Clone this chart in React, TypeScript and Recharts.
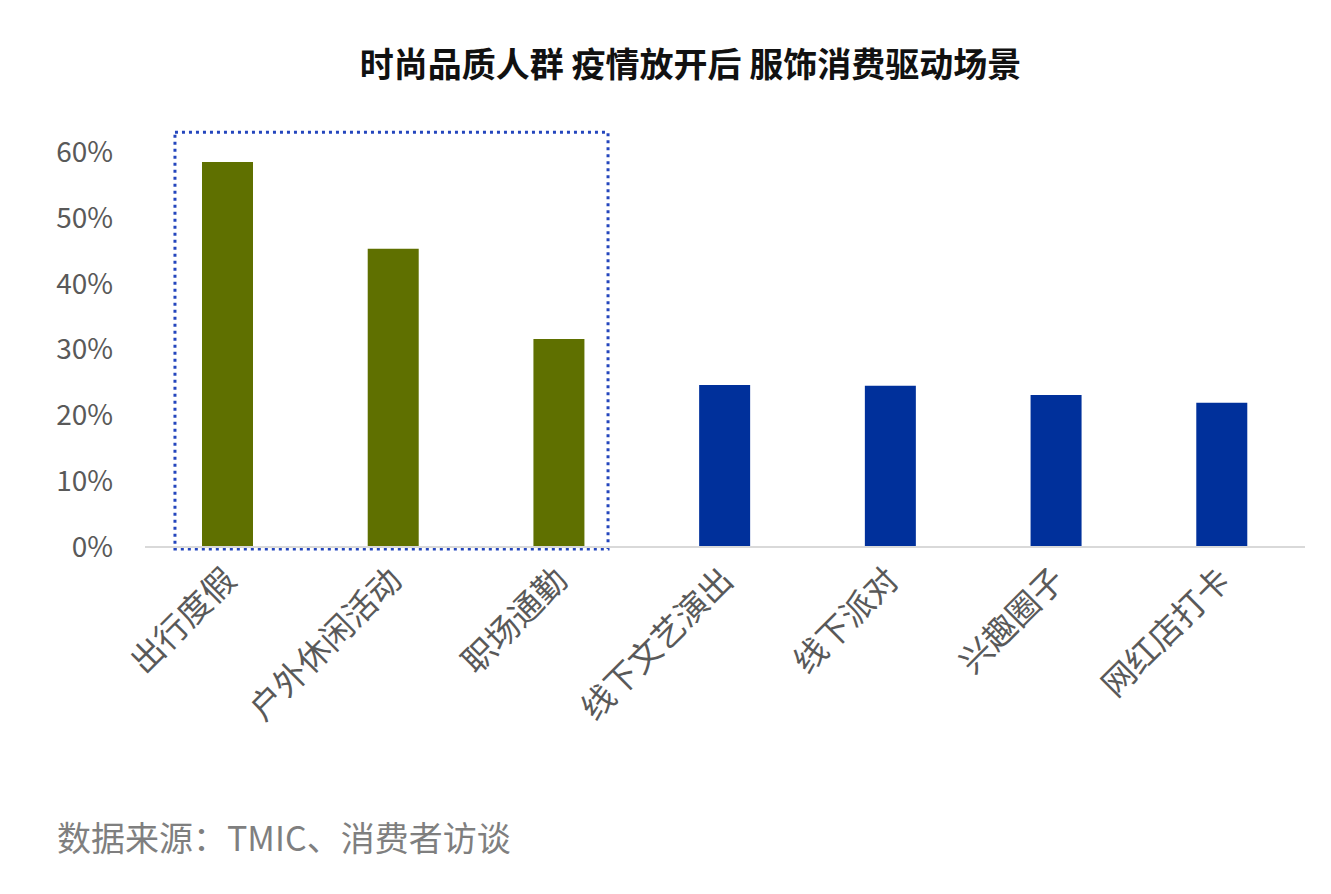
import React from 'react';
import { BarChart, Bar, XAxis, YAxis, Cell, ReferenceArea } from 'recharts';

const categories = ['出行度假', '户外休闲活动', '职场通勤', '线下文艺演出', '线下派对', '兴趣圈子', '网红店打卡'];
const values = [58.5, 45.3, 31.6, 24.6, 24.5, 23.1, 21.9];
const groups = ['top', 'top', 'top', 'other', 'other', 'other', 'other'];
const yTicks = [0, 10, 20, 30, 40, 50, 60];
const boxX = [0.155, 2.395];
const boxY = [-0.3, 63.0];

const colors: Record<string, string> = { top: '#5f7000', other: '#00309b' };
const data = categories.map((name, i) => ({ name, value: values[i], group: groups[i] }));

const FONT = '"Noto Sans CJK SC", "Noto Sans", sans-serif';

const XTick = (props: any) => {
  const { x, y, payload } = props;
  const px = x + 2;
  const py = y + 25;
  return (
    <text
      x={px}
      y={py}
      dy="0.35em"
      textAnchor="end"
      transform={`rotate(-45, ${px}, ${py})`}
      fill="#595959"
      fontSize={33}
      fontFamily={FONT}
    >
      {payload.value}
    </text>
  );
};

export default function App() {
  return (
    <div style={{ position: 'absolute', left: 0, top: 0, width: 1331, height: 894, background: '#fff' }}>
      <div
        style={{
          position: 'absolute',
          left: 25,
          width: 1331,
          top: 41,
          textAlign: 'center',
          fontFamily: FONT,
          fontWeight: 700,
          fontSize: 34,
          color: '#111',
          lineHeight: '44px',
        }}
      >
        时尚品质人群 疫情放开后 服饰消费驱动场景
      </div>
      <BarChart
        width={1331}
        height={894}
        data={data}
        margin={{ top: 152, right: 26, bottom: 10, left: 0 }}
      >
        <XAxis
          dataKey="name"
          interval={0}
          tickLine={false}
          tickSize={0}
          axisLine={{ stroke: '#d9d9d9', strokeWidth: 2 }}
          tick={<XTick />}
          height={337}
        />
        <XAxis xAxisId="box" type="number" domain={[0, 6]} allowDataOverflow hide />
        <YAxis
          width={145}
          domain={[0, 60]}
          ticks={yTicks}
          tickFormatter={(v: number) => `${v}%`}
          axisLine={false}
          tickLine={false}
          tickSize={0}
          tickMargin={32}
          tick={{ fill: '#595959', fontSize: 28, fontFamily: FONT }}
          interval={0}
        />
        <Bar dataKey="value" barSize={51} isAnimationActive={false}>
          {data.map((d, i) => (
            <Cell key={i} fill={colors[d.group]} />
          ))}
        </Bar>
        <ReferenceArea
          xAxisId="box"
          x1={boxX[0]}
          x2={boxX[1]}
          y1={boxY[0]}
          y2={boxY[1]}
          ifOverflow="visible"
          fill="none"
          fillOpacity={0}
          stroke="#2446bd"
          strokeWidth={3}
          strokeDasharray="3 4"
        />
      </BarChart>
      <div
        style={{
          position: 'absolute',
          left: 57,
          top: 815,
          fontFamily: FONT,
          fontSize: 34,
          color: '#7f7f7f',
          lineHeight: '44px',
          whiteSpace: 'nowrap',
        }}
      >
        数据来源：TMIC、消费者访谈
      </div>
    </div>
  );
}
